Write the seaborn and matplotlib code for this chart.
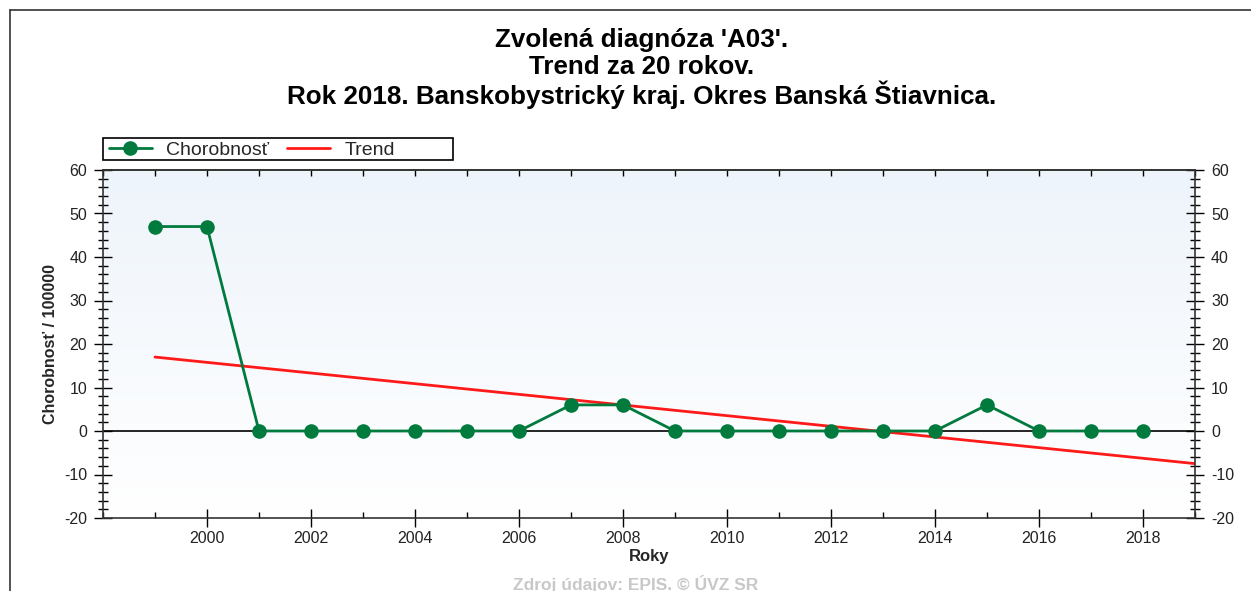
import numpy as np
import pandas as pd
import matplotlib
matplotlib.use("Agg")
import matplotlib.pyplot as plt
from matplotlib.lines import Line2D
from matplotlib.patches import Rectangle
from matplotlib.ticker import MultipleLocator, FixedLocator
import seaborn as sns

# Incidence per 100 000 inhabitants, diagnosis A03, district Banská Štiavnica
years = [1999, 2000, 2001, 2002, 2003, 2004, 2005, 2006, 2007, 2008,
         2009, 2010, 2011, 2012, 2013, 2014, 2015, 2016, 2017, 2018]
incidence = [47, 47, 0, 0, 0, 0, 0, 0, 6, 6,
             0, 0, 0, 0, 0, 0, 6, 0, 0, 0]

# Linear trend line end points
trend_years = [1999, 2019]
trend_values = [17.0, -7.5]

year_labels = [2000, 2002, 2004, 2006, 2008, 2010, 2012, 2014, 2016, 2018]

title_lines = ["Zvolená diagnóza 'A03'.",
               "Trend za 20 rokov.",
               "Rok 2018. Banskobystrický kraj. Okres Banská Štiavnica."]
series_labels = ["Chorobnosť", "Trend"]
x_label = "Roky"
y_label = "Chorobnosť / 100000"
source_text = "Zdroj údajov: EPIS. © ÚVZ SR"

sns.set_style("ticks")
plt.rcParams["font.family"] = ["Liberation Sans", "DejaVu Sans"]
plt.rcParams["axes.unicode_minus"] = False

green = "#007a3d"
red = "#ff1a1a"
W, H = 1251, 591

fig = plt.figure(figsize=(W / 100, H / 100), dpi=100)
ax = fig.add_axes([103 / W, 1 - 518 / H, (1195 - 103) / W, (518 - 170) / H])

# soft blue-to-white background gradient
grad = np.linspace(1, 0, 256).reshape(-1, 1, 1)
top_c = np.array([0.933, 0.957, 0.984])
bot_c = np.array([1.0, 1.0, 1.0])
img = grad * top_c + (1 - grad) * bot_c
ax.imshow(img, extent=[1998, 2019, -20, 60], aspect="auto", origin="upper", zorder=0)

ax.axhline(0, color="black", lw=1.2, zorder=1)

df = pd.DataFrame({"Rok": years, "Hodnota": incidence})
sns.lineplot(data=df, x="Rok", y="Hodnota", ax=ax, color=green, lw=2,
             marker="o", markersize=10.5, markeredgewidth=0, zorder=3)
trend_df = pd.DataFrame({"Rok": trend_years, "Hodnota": trend_values})
sns.lineplot(data=trend_df, x="Rok", y="Hodnota", ax=ax, color=red, lw=2, zorder=2)

ax.set_xlim(1998, 2019)
ax.set_ylim(-20, 60)
ax.xaxis.set_major_locator(FixedLocator(year_labels))
ax.xaxis.set_minor_locator(FixedLocator([y for y in range(1998, 2020) if y not in year_labels]))
ax.yaxis.set_major_locator(MultipleLocator(10))
ax.yaxis.set_minor_locator(MultipleLocator(2))

ax.tick_params(axis="both", which="both", color="black", width=1,
               labelsize=11.5, labelcolor="#222222",
               top=False, right=True, labelright=True)
ax.tick_params(axis="y", which="major", direction="inout", length=13, pad=5)
ax.tick_params(axis="y", which="minor", direction="inout", length=7)
ax.tick_params(axis="x", which="major", direction="inout", length=13, pad=3)
ax.tick_params(axis="x", which="minor", direction="in", length=4)

# top axis: small inward ticks at every year
top = ax.secondary_xaxis("top")
top.xaxis.set_major_locator(MultipleLocator(1))
top.tick_params(direction="in", length=4, width=1, color="black", labeltop=False)
top.spines["top"].set_color("#333333")
top.spines["top"].set_linewidth(1.2)

for s in ax.spines.values():
    s.set_color("#333333")
    s.set_linewidth(1.2)

ax.set_xlabel(x_label, fontsize=12, fontweight="bold", labelpad=2)
ax.set_ylabel(y_label, fontsize=11.5, fontweight="bold", labelpad=4)

# legend above the plot, framed box drawn separately
fig.add_artist(Rectangle((103 / W, 1 - 160 / H), 350 / W, 22 / H,
                         transform=fig.transFigure, facecolor="white",
                         edgecolor="black", lw=1.2))
handles = [Line2D([], [], color=green, lw=2, marker="o", markersize=10.5, markeredgewidth=0),
           Line2D([], [], color=red, lw=2)]
fig.legend(handles, series_labels, loc="center left",
           bbox_to_anchor=(109 / W, 1 - 150 / H),
           ncol=2, frameon=False, fontsize=14,
           borderpad=0, handlelength=2.2, handletextpad=0.75,
           columnspacing=0.9, borderaxespad=0)

for i, line in enumerate(title_lines):
    fig.text(642 / W, 1 - (40 + i * 27.5) / H, line, ha="center", va="center",
             fontsize=18.7, fontweight="bold", color="black")

fig.text(636 / W, 1 - 584 / H, source_text, ha="center", va="center",
         fontsize=12.5, fontweight="bold", color="#c8c8c8")

# outer frame lines
fig.add_artist(Line2D([10 / W, 1], [1 - 10 / H, 1 - 10 / H], color="#333333", lw=1.2))
fig.add_artist(Line2D([10 / W, 10 / W], [0, 1 - 10 / H], color="#333333", lw=1.2))

fig.savefig("out.png", dpi=100)
